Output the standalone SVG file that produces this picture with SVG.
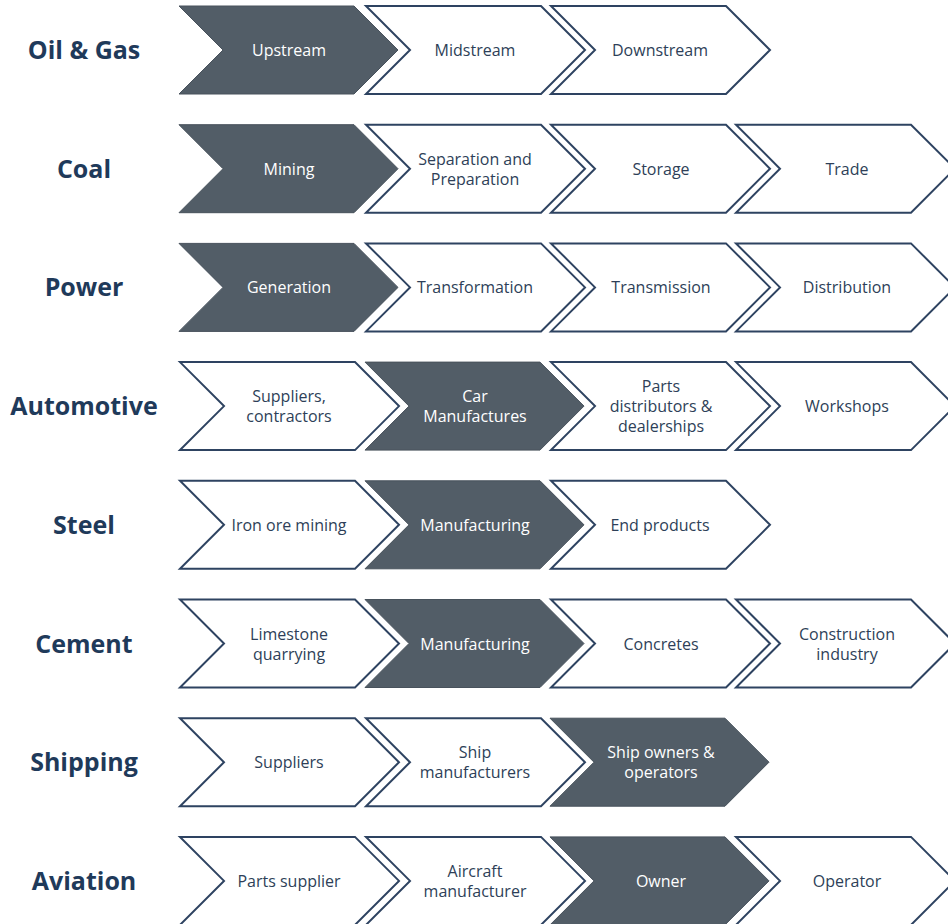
<svg xmlns="http://www.w3.org/2000/svg" xmlns:xlink="http://www.w3.org/1999/xlink" width="948" height="924" viewBox="0 0 948 924">
<style>
.lbl{font-family:"Open Sans","DejaVu Sans",sans-serif;font-weight:bold;font-size:25px;fill:#1f3a5a;text-anchor:middle}
.t{font-family:"Open Sans","DejaVu Sans",sans-serif;font-size:16px;text-anchor:middle}
.w{fill:#ffffff;stroke:#2e4361;stroke-width:2;stroke-linejoin:miter}
.d{fill:#525d67;stroke:#48525c;stroke-width:1}
.tw{fill:#2e3f58}
.td{fill:#ffffff}
</style>
<defs>
<path id="chev" d="M0,-44 L175,-44 L219,0 L175,44 L0,44 L44,0 Z"/>
</defs>
<rect width="948" height="924" fill="#ffffff"/>

<g id="row-oilgas" transform="translate(0,50)">
<text class="lbl" x="84" y="9">Oil &amp; Gas</text>
<g id="upstream"><use href="#chev" class="d" x="179"/><text class="t td" x="289" y="6">Upstream</text></g>
<g id="midstream"><use href="#chev" class="w" x="366"/><text class="t tw" x="475" y="6">Midstream</text></g>
<g id="downstream"><use href="#chev" class="w" x="551"/><text class="t tw" x="660" y="6">Downstream</text></g>
</g>

<g id="row-coal" transform="translate(0,168.7)">
<text class="lbl" x="84" y="9">Coal</text>
<g id="mining"><use href="#chev" class="d" x="179"/><text class="t td" x="289" y="6">Mining</text></g>
<g id="separation"><use href="#chev" class="w" x="366"/><text class="t tw" x="475" y="-4">Separation and</text><text class="t tw" x="475" y="16">Preparation</text></g>
<g id="storage"><use href="#chev" class="w" x="551"/><text class="t tw" x="661" y="6">Storage</text></g>
<g id="trade"><use href="#chev" class="w" x="736"/><text class="t tw" x="847" y="6">Trade</text></g>
</g>

<g id="row-power" transform="translate(0,287.4)">
<text class="lbl" x="84" y="9">Power</text>
<g id="generation"><use href="#chev" class="d" x="179"/><text class="t td" x="289" y="6">Generation</text></g>
<g id="transformation"><use href="#chev" class="w" x="366"/><text class="t tw" x="475" y="6">Transformation</text></g>
<g id="transmission"><use href="#chev" class="w" x="551"/><text class="t tw" x="661" y="6">Transmission</text></g>
<g id="distribution"><use href="#chev" class="w" x="736"/><text class="t tw" x="847" y="6">Distribution</text></g>
</g>

<g id="row-automotive" transform="translate(0,406.1)">
<text class="lbl" x="84" y="9">Automotive</text>
<g id="suppliers-contractors"><use href="#chev" class="w" x="180"/><text class="t tw" x="289" y="-4">Suppliers,</text><text class="t tw" x="289" y="16">contractors</text></g>
<g id="car-manufactures"><use href="#chev" class="d" x="365"/><text class="t td" x="475" y="-4">Car</text><text class="t td" x="475" y="16">Manufactures</text></g>
<g id="parts-distributors"><use href="#chev" class="w" x="551"/><text class="t tw" x="661" y="-14">Parts</text><text class="t tw" x="661" y="6">distributors &amp;</text><text class="t tw" x="661" y="26">dealerships</text></g>
<g id="workshops"><use href="#chev" class="w" x="736"/><text class="t tw" x="847" y="6">Workshops</text></g>
</g>

<g id="row-steel" transform="translate(0,524.8)">
<text class="lbl" x="84" y="9">Steel</text>
<g id="iron-ore"><use href="#chev" class="w" x="180"/><text class="t tw" x="289" y="6">Iron ore mining</text></g>
<g id="steel-manufacturing"><use href="#chev" class="d" x="365"/><text class="t td" x="475" y="6">Manufacturing</text></g>
<g id="end-products"><use href="#chev" class="w" x="551"/><text class="t tw" x="660" y="6">End products</text></g>
</g>

<g id="row-cement" transform="translate(0,643.5)">
<text class="lbl" x="84" y="9">Cement</text>
<g id="limestone"><use href="#chev" class="w" x="180"/><text class="t tw" x="289" y="-4">Limestone</text><text class="t tw" x="289" y="16">quarrying</text></g>
<g id="cement-manufacturing"><use href="#chev" class="d" x="365"/><text class="t td" x="475" y="6">Manufacturing</text></g>
<g id="concretes"><use href="#chev" class="w" x="551"/><text class="t tw" x="661" y="6">Concretes</text></g>
<g id="construction"><use href="#chev" class="w" x="736"/><text class="t tw" x="847" y="-4">Construction</text><text class="t tw" x="847" y="16">industry</text></g>
</g>

<g id="row-shipping" transform="translate(0,762.2)">
<text class="lbl" x="84" y="9">Shipping</text>
<g id="ship-suppliers"><use href="#chev" class="w" x="180"/><text class="t tw" x="289" y="6">Suppliers</text></g>
<g id="ship-manufacturers"><use href="#chev" class="w" x="366"/><text class="t tw" x="475" y="-4">Ship</text><text class="t tw" x="475" y="16">manufacturers</text></g>
<g id="ship-owners"><use href="#chev" class="d" x="550"/><text class="t td" x="661" y="-4">Ship owners &amp;</text><text class="t td" x="661" y="16">operators</text></g>
</g>

<g id="row-aviation" transform="translate(0,880.9)">
<text class="lbl" x="84" y="9">Aviation</text>
<g id="parts-supplier"><use href="#chev" class="w" x="180"/><text class="t tw" x="289" y="6">Parts supplier</text></g>
<g id="aircraft-manufacturer"><use href="#chev" class="w" x="366"/><text class="t tw" x="475" y="-4">Aircraft</text><text class="t tw" x="475" y="16">manufacturer</text></g>
<g id="owner"><use href="#chev" class="d" x="550"/><text class="t td" x="661" y="6">Owner</text></g>
<g id="operator"><use href="#chev" class="w" x="736"/><text class="t tw" x="847" y="6">Operator</text></g>
</g>
</svg>
